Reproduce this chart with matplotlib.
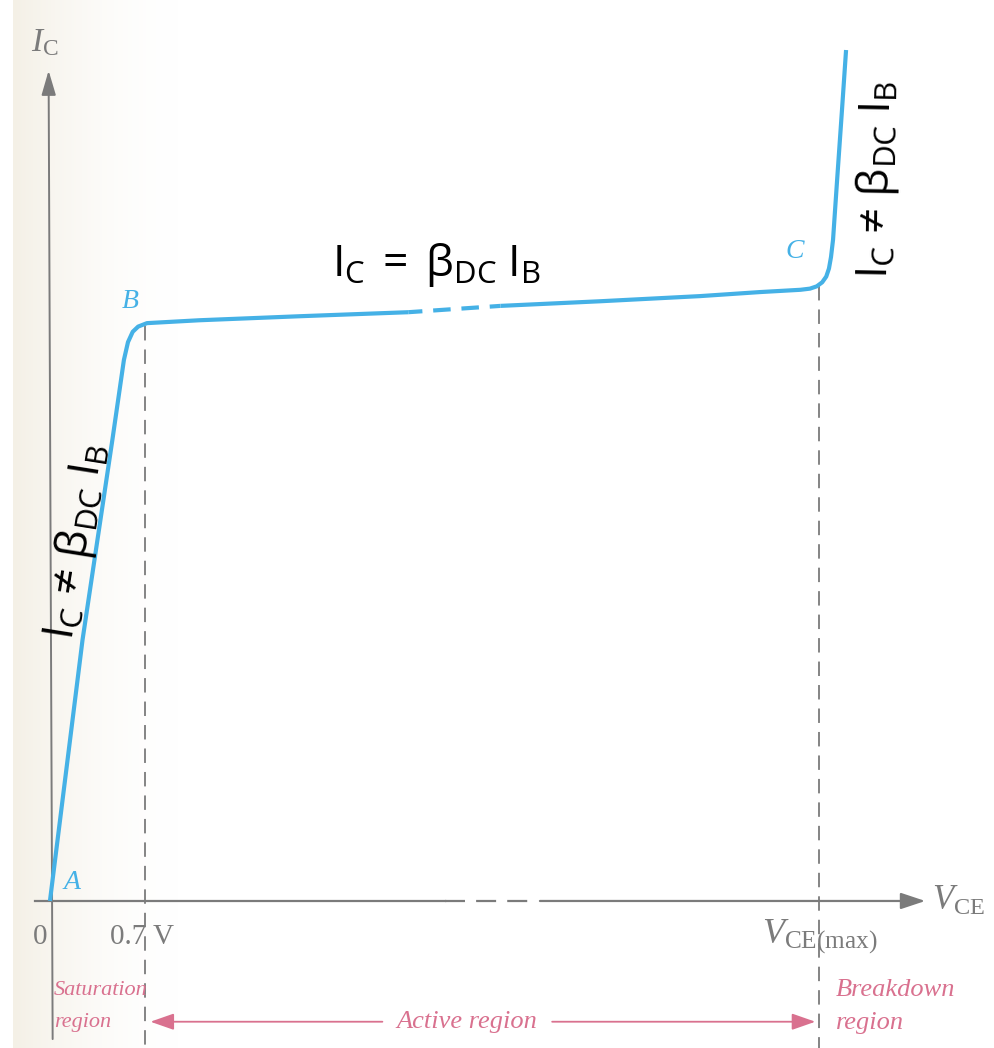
import matplotlib.pyplot as plt
import numpy as np

# operating curve of the transistor (V_CE in volts, I_C in mA, schematic)
v_sat = [0.0, 0.24, 0.46, 0.545, 0.575, 0.61, 0.65, 0.715, 1.10, 1.84, 2.64]
i_sat = [0.0, 4.54, 8.02, 9.41, 9.72, 9.90, 9.99, 10.05, 10.10, 10.17, 10.24]
v_gap = [2.64, 3.32]
i_gap = [10.24, 10.35]
v_act = [3.32, 4.05, 4.79, 5.23, 5.53, 5.60, 5.65, 5.69, 5.72, 5.74,
         5.755, 5.77, 5.80, 5.836, 5.866]
i_act = [10.35, 10.43, 10.52, 10.59, 10.63, 10.65, 10.69, 10.76, 10.86, 11.00,
         11.20, 11.50, 12.54, 13.76, 14.80]

V_KNEE = 0.7
V_CE_MAX = 5.67
I_KNEE = 10.05
I_BREAK = 10.70

blue = '#45b1e6'
grey = '#7b7b7b'
pink = '#d9718f'
serif = 'Liberation Serif'
sans = 'Open Sans'

plt.rcParams['mathtext.fontset'] = 'custom'
plt.rcParams['mathtext.rm'] = serif
plt.rcParams['mathtext.it'] = serif + ':italic'

fig = plt.figure(figsize=(9.94, 10.48), dpi=100)
ax = fig.add_axes([0, 0, 1, 1])
xmin, xmax = -0.368, 6.956
ymin, ymax = -2.557, 15.67

# slightly yellowed paper along the left edge
ramp = np.linspace(1, 0, 200)[None, :, None]
paper = np.ones((1, 200, 4))
paper[..., :3] = [0.96, 0.945, 0.905]
paper[..., 3:] = ramp ** 1.8
ax.imshow(paper, extent=[-0.27, 1.0, ymin, ymax], aspect='auto', zorder=0)
ax.set_xlim(xmin, xmax)
ax.set_ylim(ymin, ymax)
ax.axis('off')

# axes of the diagram
ax.plot([-0.11, 2.91], [0, 0], color=grey, lw=1.6, zorder=2)
ax.plot([2.91, 3.59], [0, 0], color=grey, lw=1.6, ls=(0, (9, 5)), zorder=2)
ax.annotate('', xy=(6.47, 0), xytext=(3.59, 0),
            arrowprops=dict(arrowstyle='-|>,head_length=0.75,head_width=0.25',
                            color=grey, lw=1.6, mutation_scale=20))
ax.annotate('', xy=(-0.01, 14.49), xytext=(0.02, -2.45),
            arrowprops=dict(arrowstyle='-|>,head_length=0.75,head_width=0.22',
                            color=grey, lw=1.4, mutation_scale=20))

# boundaries of the regions
ax.plot([V_KNEE, V_KNEE], [I_KNEE - 0.05, ymin], color=grey, lw=1.3,
        ls=(0, (8, 5)), zorder=2)
ax.plot([V_CE_MAX, V_CE_MAX], [I_BREAK, ymin], color=grey, lw=1.3,
        ls=(0, (8, 5)), zorder=2)

# the curve
ax.plot(v_sat, i_sat, color=blue, lw=3, solid_capstyle='butt',
        solid_joinstyle='round', zorder=3)
ax.plot(v_gap, i_gap, color=blue, lw=3, ls=(0.8, (4.2, 2.6)), zorder=3)
ax.plot(v_act, i_act, color=blue, lw=3, solid_capstyle='butt',
        solid_joinstyle='round', zorder=3)

# point labels
for name, x, y in [('A', 0.16, 0.33), ('B', 0.59, 10.42), ('C', 5.49, 11.3)]:
    ax.text(x, y, name, color=blue, fontsize=20, family=serif, style='italic',
            ha='center', va='center')

# axis labels and tick values
ax.text(-0.04, 14.95, r'$I_{\mathrm{C}}$', color=grey, fontsize=24,
        ha='center', va='center')
ax.text(6.5, 0.02, r'$V_{\mathrm{CE}}$', color=grey, fontsize=25,
        ha='left', va='center')
ax.text(-0.07, -0.62, '0', color=grey, fontsize=21, family=serif,
        ha='center', va='center')
ax.text(0.68, -0.62, '0.7 V', color=grey, fontsize=21, family=serif,
        ha='center', va='center')
ax.text(V_CE_MAX, -0.62, r'$V_{\mathrm{CE(max)}}$', color=grey, fontsize=26,
        ha='center', va='center')

# region names
ax.text(0.03, -1.55, 'Saturation', color=pink, fontsize=16, family=serif,
        style='italic', ha='left', va='center')
ax.text(0.03, -2.12, 'region', color=pink, fontsize=16, family=serif,
        style='italic', ha='left', va='center')
ax.text(5.79, -1.55, 'Breakdown', color=pink, fontsize=19, family=serif,
        style='italic', ha='left', va='center')
ax.text(5.79, -2.12, 'region', color=pink, fontsize=19, family=serif,
        style='italic', ha='left', va='center')
ax.text(3.07, -2.10, 'Active region', color=pink, fontsize=19, family=serif,
        style='italic', ha='center', va='center')
for start, end in [(2.47, V_KNEE + 0.02), (3.68, V_CE_MAX - 0.01)]:
    ax.annotate('', xy=(end, -2.10), xytext=(start, -2.10),
                arrowprops=dict(arrowstyle='-|>,head_length=0.8,head_width=0.28',
                                color=pink, lw=1.3, mutation_scale=18))

# current relations in each region
ax.text(2.85, 11.06, r'$\mathregular{I_C\ =\ β_{DC}\ I_B}$', family=sans,
        fontsize=32, ha='center', va='center')
ax.text(0.2, 6.25, r'$\mathregular{I_C\,\neq\,β_{DC}\ I_B}$', family=sans,
        fontsize=32, ha='center', va='center', rotation=81)
ax.text(6.1, 12.55, r'$\mathregular{I_C\,\neq\,β_{DC}\ I_B}$', family=sans,
        fontsize=32, ha='center', va='center', rotation=89)

fig.savefig('out.png', dpi=100)
